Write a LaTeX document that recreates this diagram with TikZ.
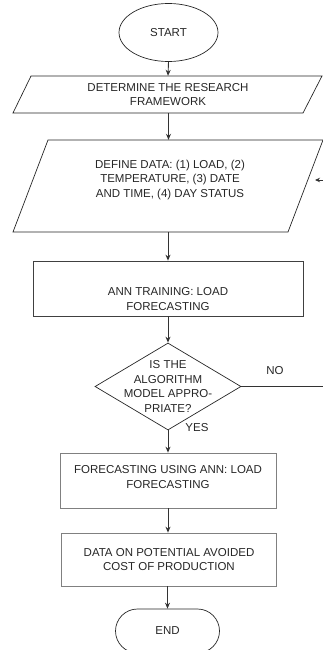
\documentclass[tikz,border=0pt]{standalone}
\usepackage{fontspec}
\setmainfont{Liberation Sans}
\usetikzlibrary{shapes.geometric, shapes.misc, arrows.meta}

\begin{document}
\begin{tikzpicture}[x=1pt, y=-1pt, >={Stealth[length=6pt, width=5pt]},
    every node/.style={font=\fontsize{11.5}{14.5}\selectfont, text=black!85}]

% Estilos del diagrama de flujo
\tikzset{
    flujo/.style={draw=black!80, line width=0.9pt, ->},
    borde/.style={draw=black!85, line width=0.7pt},
    inicio/.style={borde, ellipse, minimum width=99pt, minimum height=58pt, inner sep=0pt},
    fin/.style={borde, rounded rectangle, minimum width=104pt, minimum height=44pt, inner sep=0pt},
    entrada/.style={rectangle, align=center, minimum width=200pt, inner sep=0pt},
    proceso/.style={rectangle, align=center, line width=0.7pt, inner sep=0pt},
    decision/.style={borde, diamond, minimum width=146pt, minimum height=87pt, inner sep=0pt}
}

% Marco de la figura (las formas salen por la derecha)
\clip (0,0) rectangle (323,650);

% =============================================
% INICIO Y DATOS DE ENTRADA
% =============================================
\node[inicio] (start) at (168.5,32.5) {START};

\node[entrada, minimum height=37pt] (det) at (168,94.5)
    {DETERMINE THE RESEARCH\\FRAMEWORK};
\draw[borde] (31,76) -- (322,76) -- (303,113) -- (13,113) -- cycle;

\node[entrada, minimum height=92pt] (def) at (170,186)
    {DEFINE DATA: (1) LOAD, (2)\\TEMPERATURE, (3) DATE\\AND TIME, (4) DAY STATUS\\~};
\draw[borde] (48,140) -- (323,140) -- (288,232) -- (13,232) -- cycle;

% =============================================
% ENTRENAMIENTO Y DECISION
% =============================================
\node[proceso, draw=black!75, minimum width=270pt, minimum height=55pt] (ann) at (168,288.5)
    {~\\~\\ANN TRAINING: LOAD\\FORECASTING};

\node[decision] (dec) at (168,386.5) {};
\node[align=center, inner sep=0pt] (dectxt) at (dec.center)
    {IS THE\\ALGORITHM\\MODEL APPRO-\\PRIATE?};

\node (no) at (275,371) {NO};
\node (yes) at (197,428) {YES};

% Rama NO: vuelve a la definicion de datos
\coordinate (nofin) at (340,386.5);
\coordinate (retorno) at (315,180);

% =============================================
% PRONOSTICO Y RESULTADO
% =============================================
\node[proceso, draw=black!50, minimum width=216pt, minimum height=55pt] (fc) at (168,480.5)
    {FORECASTING USING ANN: LOAD\\FORECASTING\\[-7pt]~};

\node[proceso, draw=black!50, minimum width=215pt, minimum height=53pt] (data) at (169,559.5)
    {DATA ON POTENTIAL AVOIDED\\COST OF PRODUCTION};

\node[fin] (end) at (167.5,631) {END\\[-9pt]~};

% Conectores
\draw[flujo] (start.south) -- (det.north);
\draw[flujo] (det.south -| start.south) -- (def.north -| start.south);
\draw[flujo] (def.south -| ann.north) -- (ann.north);
\draw[flujo] (ann.south) -- (dec.north);
\draw[flujo] (dec.south) -- (fc.north);
\draw[flujo] (fc.south) -- (fc.south |- data.north);
\draw[flujo] (data.south -| end.north) -- (end.north);
\draw[flujo, -{Stealth[length=5pt, width=4.5pt]}] (dec.east) -- (nofin) |- (retorno);

\end{tikzpicture}
\end{document}
